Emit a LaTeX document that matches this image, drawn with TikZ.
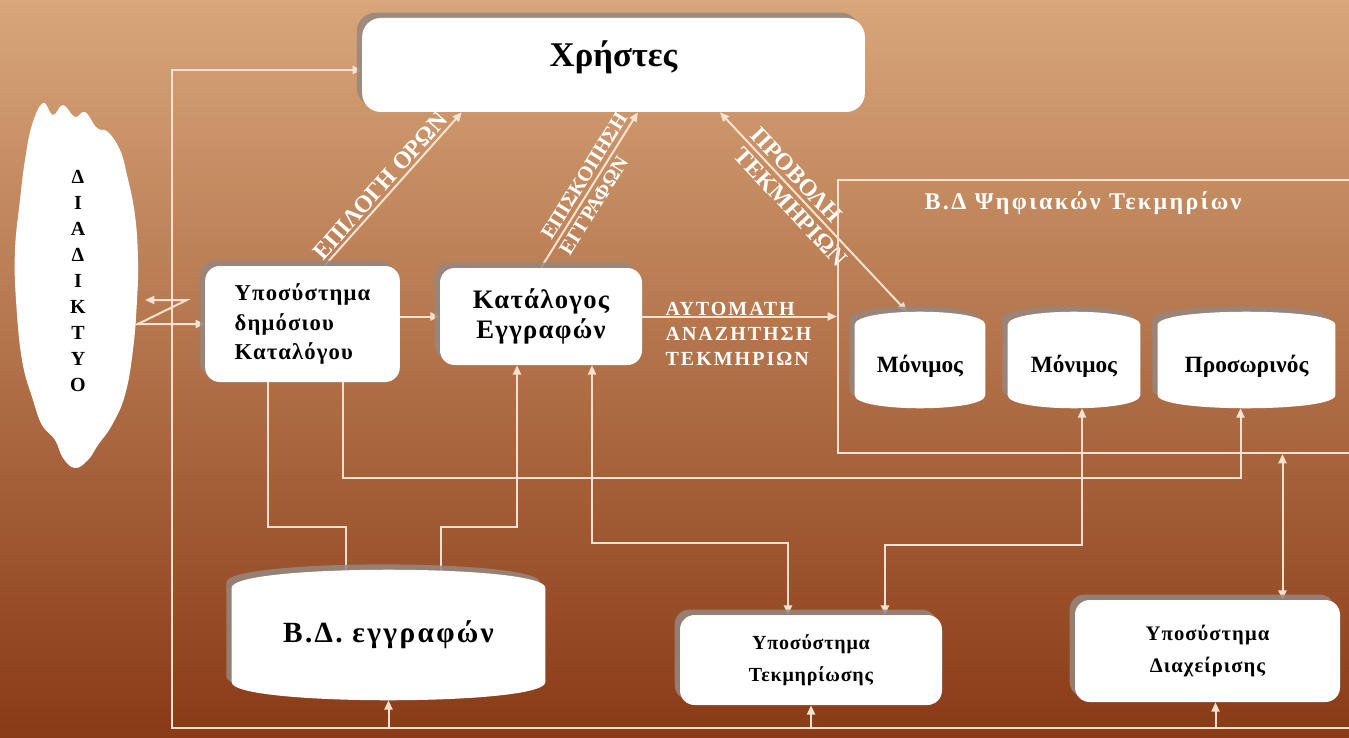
\documentclass[tikz,border=0pt]{standalone}
\usepackage{fontspec}
\setmainfont{Liberation Serif}
\usetikzlibrary{arrows.meta,calc,shadows}
\definecolor{bgtop}{RGB}{216,166,122}
\definecolor{bgmid}{RGB}{184,104,55}
\definecolor{bgbot}{RGB}{137,58,22}
\definecolor{wire}{RGB}{250,226,206}
\definecolor{shadowgrey}{RGB}{150,135,128}
\pgfdeclarelayer{bg}
\pgfdeclarelayer{lines}
\pgfdeclarelayer{shapes}
\pgfsetlayers{bg,lines,shapes,main}
\newcommand\fs[3]{\fontsize{#1}{#2}\selectfont\bfseries\addfontfeature{LetterSpace=#3}}
\tikzset{
  conn/.style={draw=wire, line width=1.5pt, >={Triangle[length=7pt,width=6pt]}},
  boxshadow/.style={drop shadow={shadow xshift=-4pt, shadow yshift=4pt, fill=shadowgrey, opacity=0.85}},
  box/.style={rectangle, rounded corners=11pt, fill=white, boxshadow, font=\bfseries},
  cylnode/.style={rectangle, draw=none, fill=none, inner sep=0pt, font=\bfseries},
  wlabel/.style={text=white, inner sep=1pt},
}
\newcommand\cylfill[2]{%
  \begin{pgfonlayer}{shapes}
  \fill[white, boxshadow] ($(#1.north west)+(0,#2)$) .. controls ($(#1.north west)+(0,-#2/3)$) and ($(#1.north east)+(0,-#2/3)$) .. ($(#1.north east)+(0,#2)$) -- ($(#1.south east)+(0,-#2)$) .. controls ($(#1.south east)+(0,#2/3)$) and ($(#1.south west)+(0,#2/3)$) .. ($(#1.south west)+(0,-#2)$) -- cycle;
  \end{pgfonlayer}}
\begin{document}
\begin{tikzpicture}[x=0.75pt, y=-0.75pt]
\useasboundingbox (0,0) rectangle (1349,738);
\begin{pgfonlayer}{bg}
  \shade[top color=bgtop, middle color=bgmid, bottom color=bgbot] (0,0) rectangle (1349,738);
\end{pgfonlayer}

% cloud
\begin{pgfonlayer}{shapes}
\fill[white] plot[smooth cycle, tension=0.7] coordinates {(43,103) (53,115) (63,105) (75,117) (85,112) (97,128) (108,132) (120,150) (127,175) (135,215) (138,260) (137,300) (133,350) (125,395) (112,425) (98,445) (88,460) (75,468) (63,458) (55,440) (42,425) (33,400) (22,360) (16,300) (15,250) (20,200) (25,160) (32,125)};
\end{pgfonlayer}
\node[font=\fs{15}{19.5}{0}, align=center] (inet) at (78,281) {Δ\\Ι\\Α\\Δ\\Ι\\Κ\\Τ\\Υ\\Ο};

% nodes
\node[box, rounded corners=14pt, minimum width=377pt, minimum height=70.5pt, font=\fs{26}{30}{0}] (users) at (613.5,65) {\raisebox{6pt}[\height][\depth]{Χρήστες}};
\node[box, minimum width=146pt, minimum height=87pt, align=left, font=\fs{17}{22}{5}] (A) at (302.5,324) {Υποσύστημα\\δημόσιου\\Καταλόγου};
\node[box, minimum width=151.5pt, minimum height=72.75pt, align=center, font=\fs{20}{23}{5}] (B) at (541,316.5) {Κατάλογος\\Εγγραφών};
\node[box, minimum width=196.5pt, minimum height=67.5pt, align=center, font=\fs{15}{24}{4}] (Tekm) at (811,660) {Υποσύστημα\\Τεκμηρίωσης};
\node[box, minimum width=198.75pt, minimum height=76.5pt, align=center, font=\fs{15.5}{24}{5}] (mgmt) at (1207.5,651) {Υποσύστημα\\Διαχείρισης};
\node[rectangle, draw=wire, line width=1.5pt, minimum width=393pt, minimum height=204.75pt] (cont) at (1100,316.5) {};
\node[wlabel, font=\fs{18}{20}{10}] (contT) at (1083,203) {Β.Δ Ψηφιακών Τεκμηρίων};

\node[cylnode, minimum width=97.5pt, minimum height=72pt, font=\fs{17.5}{20}{0}] (C1) at (920,360) {\raisebox{-5pt}[\height][\depth]{Μόνιμος}};
\node[cylnode, minimum width=99pt, minimum height=72pt, font=\fs{17.5}{20}{0}] (C2) at (1074,360) {\raisebox{-5pt}[\height][\depth]{Μόνιμος}};
\node[cylnode, minimum width=132.75pt, minimum height=72pt, font=\fs{17.5}{20}{0}] (C3) at (1246.5,360) {\raisebox{-5pt}[\height][\depth]{Προσωρινός}};
\node[cylnode, minimum width=234.75pt, minimum height=97.5pt, font=\fs{22}{24}{8}] (D) at (388.5,635) {Β.Δ. εγγραφών};
\cylfill{C1}{13}
\cylfill{C2}{13}
\cylfill{C3}{13}
\cylfill{D}{18}

\coordinate (bl) at (172,728);
\coordinate (br) at (1349,728);
\coordinate (cloudR) at (145,300);
\coordinate (m0) at ($(mgmt.south)+(8,0)$);
\coordinate (m1) at ($(mgmt.north)+(75,0)$);

\begin{pgfonlayer}{lines}
  \draw[conn,->] (br) -- (bl) |- ([yshift=-3.75pt]users.west);
  \draw[conn,->] (D.south |- bl) -- (D.south);
  \draw[conn,->] (Tekm.south |- bl) -- (Tekm.south);
  \draw[conn,->] (m0 |- bl) -- (m0);
  \draw[conn,<->] (A.west) -- ++(-67,0) -- ++(49,-24) -- (cloudR);
  \draw[conn,->] (A.east |- B.west) -- (B.west);
  \draw[conn,->] (B.east) -- (B.east -| cont.west);
  \draw[conn,->] ($(A.north)+(22,0)$) -- ($(users.south west)+(100,0)$)
     node[sloped, pos=0.47, above=1pt, wlabel, font=\fs{18}{20}{0}] (lab1) {ΕΠΙΛΟΓΗ\ ΟΡΩΝ};
  \draw[conn,->] (B.north) -- ($(users.south west)+(276,0)$)
     node[sloped, pos=0.55, above=2pt, wlabel, font=\fs{15.5}{17}{0}] (lab2a) {ΕΠΙΣΚΟΠΗΣΗ}
     node[sloped, pos=0.44, below=2pt, wlabel, font=\fs{15.5}{17}{0}] (lab2b) {ΕΓΓΡΑΦΩΝ};
  \draw[conn,<->] ($(users.south west)+(358,0)$) -- ($(C1.north)+(-13,0)$)
     node[sloped, pos=0.36, above=2pt, wlabel, font=\fs{18}{20}{0}] (lab3a) {ΠΡΟΒΟΛΗ}
     node[sloped, pos=0.43, below=2pt, wlabel, font=\fs{18}{20}{0}] (lab3b) {ΤΕΚΜΗΡΙΩΝ};
  \draw[conn] ($(A.south)+(-35,0)$) -- ++(0,145) -| ($(D.north)+(-43,16)$);
  \draw[conn,<-] ($(B.south)+(-24,0)$) -- ++(0,162) -| ($(D.north)+(52,16)$);
  \draw[conn,->] ($(A.south)+(40,0)$) -- ++(0,96) -| ($(C3.south)+(-6,0)$);
  \draw[conn,<->] ($(B.south)+(51,0)$) -- ++(0,178) -| ($(Tekm.north)+(-23,0)$);
  \draw[conn,<->] ($(Tekm.north)+(74,0)$) -- ++(0,-70) -| ($(C2.south)+(8,0)$);
  \draw[conn,<->] (m1) -- (m1 |- cont.south);
\end{pgfonlayer}
\node[wlabel, font=\fs{15}{18.5}{10}, align=left, anchor=west] (autolab) at (664,334) {ΑΥΤΟΜΑΤΗ\\ΑΝΑΖΗΤΗΣΗ\\ΤΕΚΜΗΡΙΩΝ};
\end{tikzpicture}
\end{document}
